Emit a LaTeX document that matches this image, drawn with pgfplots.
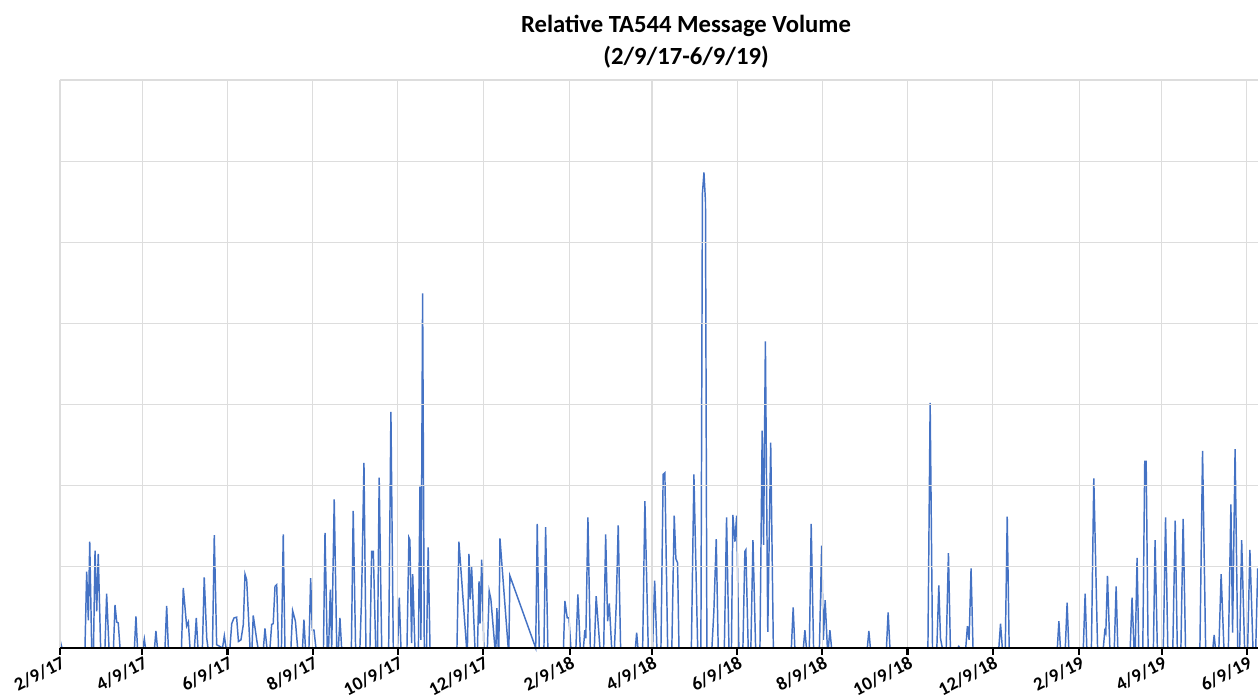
\documentclass[border=0pt]{standalone}
\usepackage{pgfplots}
\pgfplotsset{compat=1.18}
\usepackage{fontspec}
\setmainfont{Carlito}
\definecolor{xlblue}{HTML}{4472C4}
\definecolor{gridgray}{HTML}{DDDDDD}
\begin{document}
\begin{tikzpicture}
\useasboundingbox (-45pt,-37.5pt) rectangle (898.5pt,486pt);
\begin{axis}[
  at={(0,0)}, anchor=south west,
  scale only axis, width=898.5pt, height=426pt,
  xmin=0, xmax=858, ymin=0, ymax=7,
  axis x line=bottom, axis y line=left,
  axis line style={-},
  every outer x axis line/.append style={black, line width=2.2pt},
  x axis line style={-, black, line width=2.2pt},
  y axis line style={draw=none},
  xtick={0,59,120,181,242,303,365,424,485,546,607,668,730,789,850},
  xticklabels={2/9/17,4/9/17,6/9/17,8/9/17,10/9/17,12/9/17,2/9/18,4/9/18,6/9/18,8/9/18,10/9/18,12/9/18,2/9/19,4/9/19,6/9/19},
  ytick={0,1,2,3,4,5,6,7}, yticklabels={},
  ytick style={draw=none},
  xtick style={black, line width=1.6pt},
  tick align=outside, major tick length=5pt,
  xticklabel style={font=\fontsize{14}{16}\selectfont\bfseries, rotate=27, anchor=north east, inner sep=1pt, yshift=0.5pt, xshift=1pt},
  grid=major, major grid style={gridgray, line width=0.8pt},
  axis on top,
  clip=false,
]
\addplot[xlblue, line width=1.1pt, mark=none] coordinates {
(0,0.1)(1.4,0)(17.9,0)(19.1,0.94)(20.3,0.34)(21.3,1.31)(22.7,0)(24.0,0)(25.1,1.2)(26.3,0.45)(27.4,1.16)(29.1,0)(32.2,0)(33.4,0.67)(35.1,0)(38.3,0)(39.4,0.53)(40.6,0.32)(41.7,0.31)(43.0,0)(53.3,0)(54.4,0.39)(55.5,0)(59.4,0)(60.4,0.11)(61.2,0)(67.7,0)(68.7,0.21)(69.8,0)(75.2,0)(76.4,0.52)(77.6,0)(87.0,0)(88.3,0.74)(90.7,0.27)(91.9,0.32)(93.1,0)(96.3,0)(97.6,0.37)(98.8,0)(102.0,0)(103.3,0.87)(105.1,0.12)(106.0,0)(109.2,0)(110.5,1.39)(112.2,0.04)(116.4,0)(117.7,0.15)(118.9,0)(121.7,0)(123.0,0.3)(124.6,0.37)(126.5,0.38)(127.8,0.08)(129.6,0.1)(131.3,0.29)(132.5,0.91)(133.7,0.84)(136.1,0)(137.5,0)(138.4,0.4)(140.9,0.1)(141.8,0)(145.7,0)(146.8,0.24)(148.2,0)(150.4,0)(151.6,0.29)(152.7,0.3)(154.0,0.76)(155.2,0.78)(156.5,0)(158.6,0)(159.9,1.40)(161.1,0)(165.4,0)(166.6,0.46)(168.6,0.33)(170.2,0)(173.7,0)(174.7,0.35)(175.8,0)(178.3,0)(179.5,0.86)(180.7,0.22)(181.9,0.22)(183.3,0)(188.7,0)(189.8,1.42)(191.4,0)(192.4,0)(193.6,0.72)(194.6,0)(196.4,1.83)(198.2,0)(199.4,0)(200.5,0.37)(201.7,0)(208.7,0)(210.0,1.69)(211.7,0)(214.8,0)(216.0,0.63)(217.7,2.28)(219.1,0)(222.0,0)(223.2,1.19)(224.4,1.19)(226.1,0)(227.4,0)(228.6,2.1)(230.4,0)(235.4,0)(237.0,2.91)(238.7,0)(241.8,0)(243.0,0.62)(244.2,0)(248.5,0)(249.9,1.36)(250.6,1.33)(251.8,0.06)(252.6,0.91)(254.2,0)(256.7,0)(257.8,1.99)(258.5,0.1)(259.7,4.37)(260.9,0)(262.5,0)(263.7,1.24)(265.0,0)(284.3,0)(285.7,1.31)(291.2,0)(291.8,0)(292.9,1.16)(293.8,0.6)(294.8,1.0)(297.2,0)(299.0,0)(300.1,0.82)(300.8,0.3)(302.0,1.09)(303.6,0)(306.1,0)(307.4,0.7)(308.6,0.6)(311.5,0)(312.2,0)(312.9,0.49)(313.9,0)(314.3,0)(315.1,1.35)(321.0,0)(321.5,0)(322.2,0.89)(340.7,0)(341.8,1.53)(343.2,0)(346.6,0)(347.8,1.49)(349.4,0)(360.6,0)(361.6,0.58)(363.3,0.37)(364.5,0.37)(365.9,0)(369.5,0)(370.9,0.66)(372.6,0)(374.9,0)(375.9,0.22)(376.6,0.12)(378.1,1.61)(379.8,0)(382.7,0)(384.0,0.64)(386.7,0)(389.4,0)(390.8,1.4)(392.2,0.33)(393.4,0.55)(395.1,0)(397.1,0)(398.4,0.55)(399.8,1.51)(401.5,0)(412.1,0)(413.0,0.19)(413.9,0)(417.3,0)(418.9,1.81)(421.3,0)(424.4,0)(425.9,0.83)(427.5,0)(430.4,0)(432.0,2.14)(433.2,2.16)(435.2,0)(438.2,0)(439.9,1.63)(441.1,1.1)(442.3,1.05)(443.3,0)(452.2,0)(454.0,2.14)(456.7,0)(459.0,0)(460.1,5.6)(461.2,5.86)(462.3,5.5)(463.3,0)(466.9,0)(468.3,0.45)(470.0,1.34)(471.4,0)(475.8,0)(477.4,1.61)(479.1,0)(480.9,0)(481.9,1.64)(483.4,1.31)(484.6,1.63)(486.2,0)(489.1,0)(490.5,1.19)(491.2,1.21)(492.9,0)(494.8,0)(496.3,1.33)(498.2,0)(501.3,0)(502.9,2.68)(503.9,1.27)(505.2,3.78)(506.9,0.2)(509.0,2.53)(510.9,0)(523.8,0)(525.1,0.5)(526.3,0)(532.4,0)(533.5,0.22)(534.6,0)(536.7,0)(538.0,1.53)(539.7,0)(543.9,0)(545.5,1.26)(546.7,0.1)(548.0,0.59)(549.6,0)(550.3,0)(551.4,0.22)(552.6,0)(578.2,0)(579.3,0.21)(580.4,0)(591.9,0)(593.1,0.44)(594.4,0)(621.6,0)(623.2,3.02)(624.9,0)(628.0,0)(629.4,0.77)(630.6,0.12)(631.9,0)(634.7,0)(636.3,1.17)(637.7,0)(643.0,0)(643.7,0.02)(644.4,0)(648.7,0)(649.9,0.27)(651.1,0.1)(652.5,0.98)(653.9,0)(672.4,0)(673.6,0.3)(674.9,0)(677.0,0)(678.4,1.62)(679.8,0)(714.3,0)(715.4,0.33)(716.5,0)(720.0,0)(721.3,0.56)(722.5,0)(732.9,0)(734.2,0.67)(735.4,0)(738.7,0)(740.4,2.09)(743.1,0)(747.2,0)(748.3,0.21)(749.0,0.18)(750.2,0.89)(751.9,0)(755.1,0)(756.4,0.76)(757.6,0)(766.5,0)(767.8,0.62)(769.2,0)(770.1,0)(771.4,1.11)(772.6,0)(775.5,0)(776.9,2.3)(777.9,2.3)(779.3,0)(783.1,0)(784.3,1.33)(785.9,0)(790.2,0)(791.8,1.61)(793.4,0)(797.0,0)(798.7,1.57)(800.2,0)(802.8,0)(804.4,1.59)(806.1,0)(816.4,0)(818.3,2.43)(820.5,0)(825.7,0)(826.6,0.16)(827.5,0)(830.0,0)(831.6,0.91)(833.6,0)(836.8,0)(838.6,1.77)(839.8,0.19)(841.6,2.45)(843.5,0)(844.9,0)(846.3,1.33)(848.4,0)(850.6,0)(852.2,1.21)(854.4,0)(856.4,0)(857.8,0.98)
};
\end{axis}
\node[align=center, font=\fontsize{18.5}{24}\selectfont\bfseries] at (469.5pt,455pt) {Relative TA544 Message Volume\\(2/9/17-6/9/19)};
\end{tikzpicture}
\end{document}
